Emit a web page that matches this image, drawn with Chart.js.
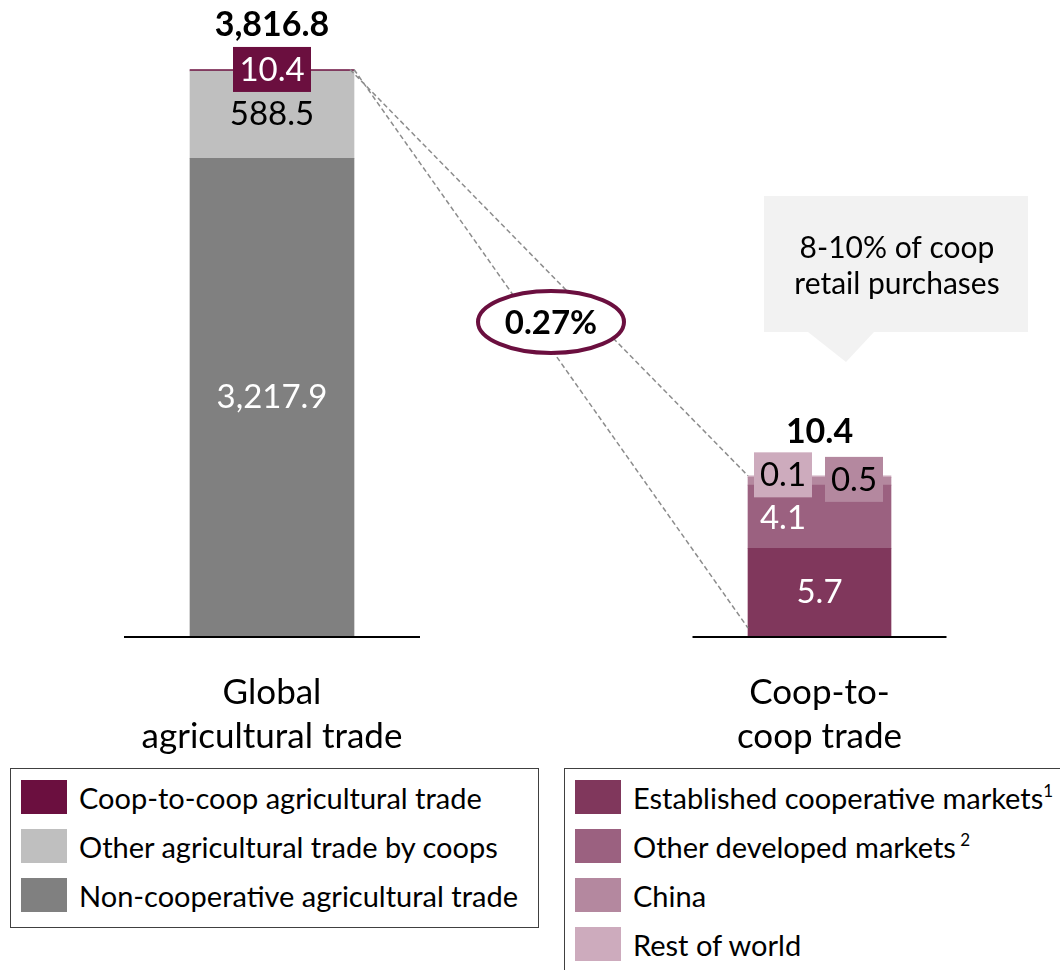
<!DOCTYPE html>
<html>
<head>
<meta charset="utf-8">
<script src="https://cdn.jsdelivr.net/npm/chart.js@4/dist/chart.umd.min.js"></script>
<style>
  body { margin: 0; background: #fff; font-family: Lato, sans-serif; }
  #wrap { position: relative; width: 1060px; height: 970px; overflow: hidden; }
  canvas { position: absolute; left: 0; top: 0; }
  .legend { position: absolute; border: 1px solid #404040; background: #fff; }
  .legend .row { position: absolute; left: 10px; height: 34px; display: flex; align-items: center; }
  .legend .sw { width: 46px; height: 34px; margin-right: 12px; }
  .legend .txt { font-size: 29px; color: #000; white-space: nowrap; }
  .legend sup { font-size: 17px; vertical-align: 12px; line-height: 0; }
</style>
</head>
<body>
<div id="wrap">
  <canvas id="chart" width="1060" height="970"></canvas>
  <div class="legend" id="legendLeft" style="left:10px; top:768px; width:527px; height:158px;"></div>
  <div class="legend" id="legendRight" style="left:564px; top:768px; width:520px; height:230px;"></div>
</div>
<script>
// ---------- Data ----------
const categories = [["Global", "agricultural trade"], ["Coop-to-", "coop trade"]];

const globalSeries = ["Non-cooperative agricultural trade", "Other agricultural trade by coops", "Coop-to-coop agricultural trade"];
const globalValues = [3217.9, 588.5, 10.4];
const globalColors = ["#808080", "#bfbfbf", "#6b0f3f"];

const coopSeries = ["Established cooperative markets", "Other developed markets", "China", "Rest of world"];
const coopValues = [5.7, 4.1, 0.5, 0.1];
const coopColors = ["#80375c", "#9b6180", "#b4889f", "#cdabbd"];
const coopSup = ["1", " 2", "", ""];

const totalLabels = ["3,816.8", "10.4"];
const shareLabel = "0.27%";
const calloutLines = ["8-10% of coop", "retail purchases"];

const FONT = "Lato, sans-serif";

// ---------- Datasets ----------
const datasets = [];
globalSeries.forEach((name, i) => {
  datasets.push({
    label: name,
    data: [globalValues[i], null],
    backgroundColor: globalColors[i],
    yAxisID: "yL",
    stack: "global",
    barThickness: 164,
    grouped: false,
    clip: false
  });
});
coopSeries.forEach((name, i) => {
  datasets.push({
    label: name,
    data: [null, coopValues[i]],
    backgroundColor: coopColors[i],
    yAxisID: "yR",
    stack: "coop",
    barThickness: 143,
    grouped: false,
    clip: false
  });
});

// ---------- Drawing helpers ----------
function text(ctx, str, x, y, size, color, bold) {
  ctx.font = (bold ? "bold " : "") + size + "px " + FONT;
  ctx.fillStyle = color;
  ctx.textAlign = "center";
  ctx.textBaseline = "middle";
  ctx.fillText(str, x, y);
}

function boxLabel(ctx, str, cx, cy, w, h, bg, color) {
  ctx.fillStyle = bg;
  ctx.fillRect(cx - w / 2, cy - h / 2, w, h);
  text(ctx, str, cx, cy + 1, 33, color, false);
}

const overlayPlugin = {
  id: "overlay",
  afterDatasetsDraw(chart) {
    const ctx = chart.ctx;
    const bar = (d, i) => chart.getDatasetMeta(d).data[i];
    const nG = globalSeries.length;

    const gBase = bar(0, 0);
    const gTop = bar(nG - 1, 0);
    const gRight = gTop.x + gTop.width / 2;
    const cBase = bar(nG, 1);
    const cTop = bar(nG + coopSeries.length - 1, 1);
    const cLeft = cBase.x - cBase.width / 2;

    ctx.save();

    // baselines
    ctx.strokeStyle = "#000";
    ctx.lineWidth = 2;
    ctx.beginPath();
    ctx.moveTo(gBase.x - 148, gBase.base + 1);
    ctx.lineTo(gBase.x + 148, gBase.base + 1);
    ctx.moveTo(cBase.x - 127, cBase.base + 1);
    ctx.lineTo(cBase.x + 127, cBase.base + 1);
    ctx.stroke();

    // dashed zoom lines
    ctx.strokeStyle = "#8c8c8c";
    ctx.lineWidth = 1.5;
    ctx.setLineDash([5, 3]);
    ctx.beginPath();
    ctx.moveTo(gRight - 4, gTop.y);
    ctx.lineTo(cLeft, cTop.y);
    ctx.moveTo(gRight, gTop.y);
    ctx.lineTo(cLeft, cBase.base - 8);
    ctx.stroke();
    ctx.setLineDash([]);

    // share ellipse
    ctx.fillStyle = "#fff";
    ctx.strokeStyle = "#6b0f3f";
    ctx.lineWidth = 4;
    ctx.beginPath();
    ctx.ellipse(551, 322, 73, 31, 0, 0, Math.PI * 2);
    ctx.fill();
    ctx.stroke();
    text(ctx, shareLabel, 551, 323, 33, "#000", true);

    // callout
    ctx.fillStyle = "#f2f2f2";
    ctx.fillRect(764, 196, 264, 136);
    ctx.beginPath();
    ctx.moveTo(808, 332);
    ctx.lineTo(874, 332);
    ctx.lineTo(846, 362);
    ctx.closePath();
    ctx.fill();
    text(ctx, calloutLines[0], 897, 248, 30, "#000", false);
    text(ctx, calloutLines[1], 897, 284, 30, "#000", false);

    // left bar labels
    const g1 = bar(1, 0);
    text(ctx, "3,217.9", gBase.x, (gBase.y + gBase.base) / 2, 33, "#fff", false);
    text(ctx, "588.5", g1.x, (g1.y + g1.base) / 2, 33, "#000", false);
    boxLabel(ctx, "10.4", gTop.x, gTop.y, 78, 45, globalColors[2], "#fff");
    text(ctx, totalLabels[0], gTop.x, gTop.y - 44, 34, "#000", true);

    // right bar labels
    const c1 = bar(nG + 1, 1), c2 = bar(nG + 2, 1);
    text(ctx, "5.7", cBase.x, (cBase.y + cBase.base) / 2, 33, "#fff", false);
    text(ctx, "4.1", cLeft + 35, (c1.y + c1.base) / 2 + 2, 33, "#fff", false);
    boxLabel(ctx, "0.1", cLeft + 35, cTop.y - 1, 58, 45, coopColors[3], "#000");
    boxLabel(ctx, "0.5", cLeft + 106, c2.y + 2, 58, 45, coopColors[2], "#000");
    text(ctx, totalLabels[1], cBase.x, cTop.y - 44, 34, "#000", true);

    ctx.restore();
  }
};

// ---------- Chart ----------
new Chart(document.getElementById("chart"), {
  type: "bar",
  data: { labels: categories, datasets },
  options: {
    responsive: false,
    animation: false,
    events: [],
    layout: { padding: { left: 272, right: 240.5, top: 20, bottom: 214 } },
    plugins: { legend: { display: false }, tooltip: { enabled: false } },
    scales: {
      x: {
        type: "category",
        offset: false,
        grid: { display: false, drawTicks: false },
        border: { display: false },
        ticks: {
          font: { family: FONT, size: 35, lineHeight: 1.28 },
          color: "#000",
          padding: 34,
          maxRotation: 0,
          autoSkip: false
        },
        afterFit(scale) { scale.height = 120; }
      },
      yL: { display: false, stacked: true, min: 0, max: 4150 },
      yR: { display: false, stacked: true, min: 0, max: 40 }
    }
  },
  plugins: [overlayPlugin]
});

// ---------- Legends ----------
function buildLegend(el, names, colors, sups) {
  names.forEach((name, i) => {
    const row = document.createElement("div");
    row.className = "row";
    row.style.top = (11 + i * 49) + "px";
    const sw = document.createElement("div");
    sw.className = "sw";
    sw.style.background = colors[i];
    const t = document.createElement("span");
    t.className = "txt";
    t.textContent = name;
    if (sups && sups[i]) {
      const s = document.createElement("sup");
      s.textContent = sups[i];
      t.appendChild(s);
    }
    row.appendChild(sw);
    row.appendChild(t);
    el.appendChild(row);
  });
}

buildLegend(document.getElementById("legendLeft"),
  [globalSeries[2], globalSeries[1], globalSeries[0]],
  [globalColors[2], globalColors[1], globalColors[0]]);
buildLegend(document.getElementById("legendRight"), coopSeries, coopColors, coopSup);
</script>
</body>
</html>
